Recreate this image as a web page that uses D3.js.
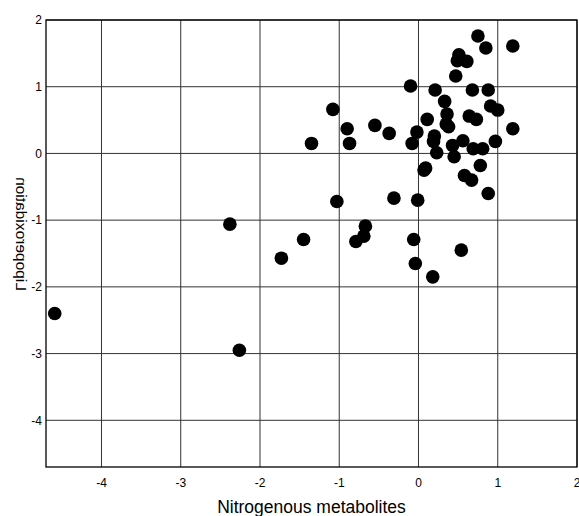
<script src="https://d3js.org/d3.v7.min.js"></script>
<style>
  body { margin: 0; background: #fff; }
  text { font-family: "Liberation Sans", Arial, sans-serif; }
</style>
<div id="container"></div>

<script type="text/javascript">

var width = 579, height = 516;
var margin = {top: 20, right: 2, bottom: 49, left: 46};

// Nitrogenous metabolites (x) vs Lipoperoxidation (y)
var xVals = [0.75, 0.85, 1.19, 0.51, 0.49, 0.61, 0.47, -0.10, 0.21, 0.68,
             0.88, 0.33, -1.08, 0.91, 1.00, 0.36, 0.64, 0.73, 0.11, 0.35,
             0.38, -0.55, -0.90, -0.37, -0.02, 1.19, 0.20, -0.87, -1.35, -0.08,
             0.19, 0.56, 0.43, 0.97, 0.69, 0.81, 0.23, 0.45, 0.78, 0.09,
             0.07, 0.58, 0.67, 0.88, -1.03, -0.31, -0.01, -0.67, -0.69, -0.79,
             -1.45, -0.06, 0.54, -0.04, 0.18, -1.73, -4.59, -2.26, -2.38];
var yVals = [1.76, 1.58, 1.61, 1.48, 1.39, 1.38, 1.16, 1.01, 0.95, 0.95,
             0.95, 0.78, 0.66, 0.71, 0.65, 0.59, 0.56, 0.51, 0.51, 0.44,
             0.40, 0.42, 0.37, 0.30, 0.32, 0.37, 0.26, 0.15, 0.15, 0.15,
             0.18, 0.19, 0.12, 0.18, 0.07, 0.07, 0.01, -0.05, -0.18, -0.22,
             -0.25, -0.33, -0.40, -0.60, -0.72, -0.67, -0.70, -1.09, -1.24, -1.32,
             -1.29, -1.29, -1.45, -1.65, -1.85, -1.57, -2.40, -2.95, -1.06];
var xTicks = [-4, -3, -2, -1, 0, 1, 2];
var yTicks = [2, 1, 0, -1, -2, -3, -4];
var xTitle = "Nitrogenous metabolites";
var yTitle = "Lipoperoxidation";

var points = xVals.map((x, i) => ({x: x, y: yVals[i]}));

var svg = d3.select('#container')
  .append('svg')
  .attr('width', width)
  .attr('height', height);

var x = d3.scaleLinear()
  .domain([-4.7, 2])
  .range([margin.left, width - margin.right]);

var y = d3.scaleLinear()
  .domain([-4.7, 2])
  .range([height - margin.bottom, margin.top]);

// grid
svg.append('g')
  .selectAll('line')
  .data(xTicks)
  .enter()
  .append('line')
  .attr('x1', d => x(d)).attr('x2', d => x(d))
  .attr('y1', y(2)).attr('y2', y(-4.7))
  .attr('stroke', '#333').attr('stroke-width', 1);

svg.append('g')
  .selectAll('line')
  .data(yTicks)
  .enter()
  .append('line')
  .attr('x1', x(-4.7)).attr('x2', x(2))
  .attr('y1', d => y(d)).attr('y2', d => y(d))
  .attr('stroke', '#333').attr('stroke-width', 1);

// frame
svg.append('rect')
  .attr('x', x(-4.7)).attr('y', y(2))
  .attr('width', x(2) - x(-4.7))
  .attr('height', y(-4.7) - y(2))
  .attr('fill', 'none')
  .attr('stroke', '#000').attr('stroke-width', 1.3);

// tick labels
svg.append('g')
  .selectAll('text')
  .data(xTicks)
  .enter()
  .append('text')
  .attr('x', d => x(d))
  .attr('y', y(-4.7) + 20)
  .attr('text-anchor', 'middle')
  .style('font-size', '12px')
  .text(d => d);

svg.append('g')
  .selectAll('text')
  .data(yTicks)
  .enter()
  .append('text')
  .attr('x', x(-4.7) - 4)
  .attr('y', d => y(d) + 4.3)
  .attr('text-anchor', 'end')
  .style('font-size', '12px')
  .text(d => d);

// titles
svg.append('text')
  .attr('x', (x(-4.7) + x(2)) / 2)
  .attr('y', 513)
  .attr('text-anchor', 'middle')
  .style('font-size', '17.5px')
  .text(xTitle);

// the y title is drawn mirrored, as in the source picture
svg.append('text')
  .attr('transform', 'translate(16,' + 234 + ') rotate(90) scale(-1,1)')
  .attr('text-anchor', 'middle')
  .style('font-size', '15.5px')
  .text(yTitle);

// points
svg.append('g')
  .selectAll('circle')
  .data(points)
  .enter()
  .append('circle')
  .attr('cx', d => x(d.x))
  .attr('cy', d => y(d.y))
  .attr('r', 6.8)
  .attr('fill', '#000');

</script>
